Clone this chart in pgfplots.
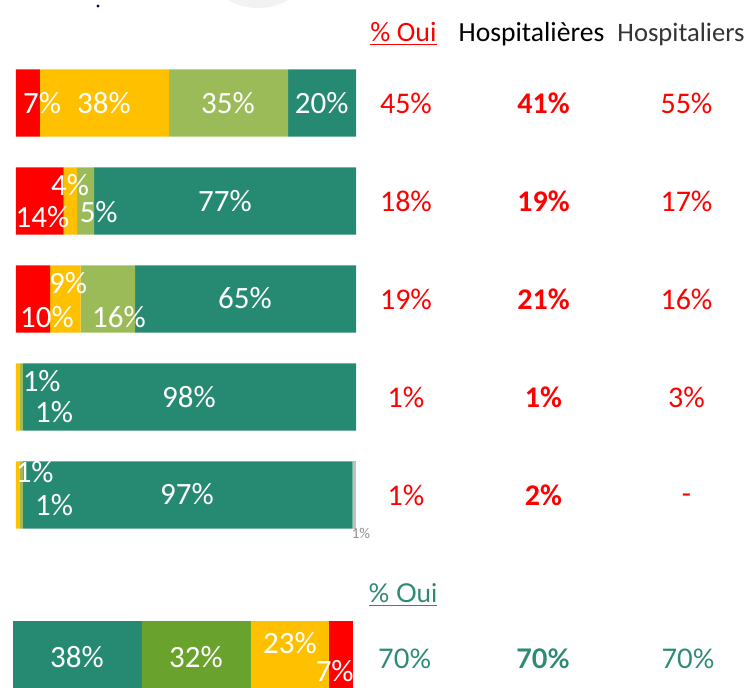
\documentclass[border=0pt]{standalone}
\usepackage{pgfplots}
\pgfplotsset{compat=1.18}
\usepackage{fontspec}
\setmainfont{Carlito}
\newfontfamily\lato{Lato}
\definecolor{cred}{HTML}{FF0000}
\definecolor{cyel}{HTML}{FFC000}
\definecolor{clgr}{HTML}{9BBB59}
\definecolor{cteal}{HTML}{268A72}
\definecolor{cgrn}{HTML}{6AA22E}
\definecolor{cgray}{HTML}{BFBFBF}
\definecolor{tteal}{HTML}{2E8B73}
\begin{document}
\begin{tikzpicture}
\useasboundingbox (0,0) rectangle (375pt,-344pt);
% top group of bars
\begin{axis}[xbar stacked, scale only axis, width=170pt, height=245pt,
  at={(8pt,-272pt)}, anchor=south west,
  xmin=0, xmax=100, ymin=0.5, ymax=5.5, y dir=reverse,
  axis lines=none, ticks=none, bar width=0.684, clip=false]
\addplot[fill=cred, draw=none] coordinates {(7,1) (14,2) (10,3) (0,4) (0,5)};
\addplot[fill=cyel, draw=none] coordinates {(38,1) (4,2) (9,3) (1,4) (1,5)};
\addplot[fill=clgr, draw=none] coordinates {(35,1) (5,2) (16,3) (1,4) (1,5)};
\addplot[fill=cteal, draw=none] coordinates {(20,1) (77,2) (65,3) (98,4) (97,5)};
\addplot[fill=cgray, draw=none] coordinates {(0,1) (0,2) (0,3) (0,4) (1,5)};
\end{axis}
% bottom bar
\begin{axis}[xbar stacked, scale only axis, width=170pt, height=33.5pt,
  at={(6.5pt,-344pt)}, anchor=south west,
  xmin=0, xmax=100, ymin=0.5, ymax=1.5,
  axis lines=none, ticks=none, bar width=1, clip=false]
\addplot[fill=cteal, draw=none] coordinates {(38,1)};
\addplot[fill=cgrn, draw=none] coordinates {(32,1)};
\addplot[fill=cyel, draw=none] coordinates {(23,1)};
\addplot[fill=cred, draw=none] coordinates {(7,1)};
\end{axis}
\begin{scope}[x=0.5pt,y=-0.5pt]
% artifact at top left
\fill[gray!10] (258,-22) ellipse (44 and 30);
\fill[black!60!blue] (98,6) circle (1.6);
% bar labels
\begin{scope}[every node/.style={text=white, font=\fontsize{15.5pt}{18pt}\selectfont, inner sep=0pt}]
\node at (42,103) {7\%};
\node at (104,103) {38\%};
\node at (228,103) {35\%};
\node at (321.7,103) {20\%};
\node at (70,185) {4\%};
\node at (42.5,217.5) {14\%};
\node at (98.7,212) {5\%};
\node at (225,201.5) {77\%};
\node at (68,283) {9\%};
\node at (47,317.5) {10\%};
\node at (119,317.5) {16\%};
\node at (245,298) {65\%};
\node at (41.7,381) {1\%};
\node at (54,412.5) {1\%};
\node at (189,397.5) {98\%};
\node at (34.7,472.5) {1\%};
\node at (54,505) {1\%};
\node at (187,494) {97\%};
\node at (77,656.7) {38\%};
\node at (196,656.7) {32\%};
\node at (290,643) {23\%};
\node at (334.7,671) {7\%};
\end{scope}
\node[text=gray!90, font=\fontsize{7.5pt}{8pt}\selectfont, inner sep=0pt] at (361,533) {1\%};
% headers
\node[anchor=base, text=cred, font=\fontsize{14pt}{16pt}\selectfont, inner sep=0pt] at (403.5,41.5) {\underline{\% Oui}};
\node[anchor=base, text=black, font=\fontsize{13.8pt}{16pt}\selectfont, inner sep=0pt] at (531.5,41.5) {Hospitalières};
\node[anchor=base, text=black!80, font=\fontsize{13.3pt}{16pt}\selectfont, inner sep=0pt] at (681,41.5) {Hospitaliers};
% value columns
\begin{scope}[every node/.style={text=cred, font=\fontsize{15pt}{18pt}\selectfont, inner sep=0pt}]
\node at (406,103) {45\%};
\node at (406,201) {18\%};
\node at (406,299) {19\%};
\node at (406,397) {1\%};
\node at (406,495) {1\%};
\node[font=\fontsize{15pt}{18pt}\selectfont\bfseries] at (543.5,103) {41\%};
\node[font=\fontsize{15pt}{18pt}\selectfont\bfseries] at (543.5,201) {19\%};
\node[font=\fontsize{15pt}{18pt}\selectfont\bfseries] at (543.5,299) {21\%};
\node[font=\fontsize{15pt}{18pt}\selectfont\bfseries] at (543.5,397) {1\%};
\node[font=\fontsize{15pt}{18pt}\selectfont\bfseries] at (543.5,495) {2\%};
\node at (686.5,103) {55\%};
\node at (686.5,201) {17\%};
\node at (686.5,299) {16\%};
\node at (686.5,397) {3\%};
\node at (686.5,499) {-};
\end{scope}
% bottom header and values
\node[anchor=base, text=tteal, font=\lato\fontsize{13pt}{16pt}\selectfont, inner sep=0pt] at (403,602.5) {\underline{\% Oui}};
\begin{scope}[every node/.style={text=tteal, font=\lato\fontsize{13.5pt}{16pt}\selectfont, inner sep=0pt}]
\node at (404.7,659) {70\%};
\node[font=\lato\fontsize{13.5pt}{16pt}\selectfont\bfseries] at (543,659) {70\%};
\node at (688,659) {70\%};
\end{scope}
\end{scope}
\end{tikzpicture}
\end{document}
